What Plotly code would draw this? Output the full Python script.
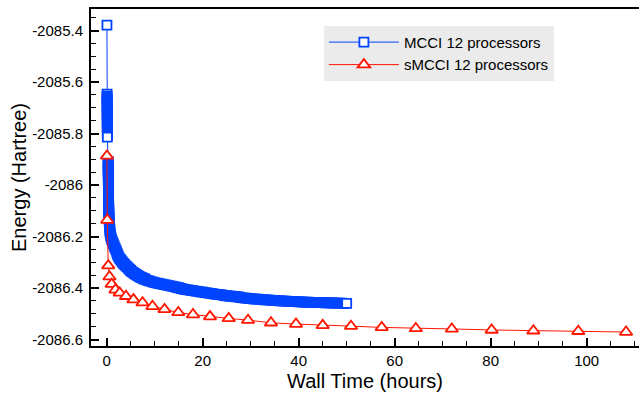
import plotly.graph_objects as go

# ---------------- data ----------------
mcci_time = [
    0.05,
    0.08, 0.08, 0.09, 0.09, 0.09, 0.10, 0.10, 0.10, 0.11, 0.11, 0.11,
    0.12, 0.12, 0.12, 0.12, 0.13, 0.13, 0.13, 0.13, 0.14, 0.14, 0.14,
    0.30, 0.30, 0.31, 0.31, 0.32, 0.32, 0.33, 0.33, 0.34, 0.34, 0.35, 0.35,
    0.36, 0.36, 0.37, 0.37, 0.38, 0.38, 0.39, 0.39, 0.40, 0.41, 0.42, 0.43,
    0.44, 0.45, 0.46, 0.48,
    0.50, 0.53, 0.56, 0.59, 0.62, 0.65, 0.68, 0.74, 0.82, 0.92, 1.04, 1.20,
    1.38, 1.56, 1.74, 1.92, 2.08, 2.24,
    2.4, 2.6, 2.8, 3.0, 3.25, 3.5, 3.75, 4.0, 4.25, 4.5, 4.75, 5.0, 5.25,
    5.5, 5.75, 6.0, 6.25, 6.5, 6.75, 7.0, 7.25, 7.5, 7.75,
    8.0, 8.5, 9.0,
    9.5, 10.0, 10.5, 11.0, 11.5, 12.0, 12.5, 13.0, 13.5, 14.0, 14.5, 15.0,
    15.5, 16.0, 16.5, 17.0, 17.5, 18.0, 18.5, 19.0, 19.5, 20.0, 20.5, 21.0,
    21.5, 22.0, 22.5, 23.0, 23.5, 24.0, 24.5, 25.0, 25.5, 26.0, 26.5, 27.0,
    27.5, 28.0, 28.5, 29.0, 29.5, 30.0, 30.5, 31.0, 31.5, 32.0, 32.5, 33.0,
    33.5, 34.0, 34.5, 35.0, 35.5, 36.0, 36.5, 37.0, 37.5, 38.0, 38.5, 39.0,
    39.5, 40.0, 40.5, 41.0, 41.5, 42.0, 42.5, 43.0, 43.5, 44.0, 44.5, 45.0,
    45.5, 46.0, 46.5, 47.0, 47.5, 48.0, 48.5, 49.0, 49.5, 50.0,
]
mcci_energy = [
    -2085.379,
    -2085.647, -2085.655, -2085.663, -2085.671, -2085.679, -2085.687,
    -2085.695, -2085.703, -2085.711, -2085.719, -2085.727, -2085.735,
    -2085.743, -2085.751, -2085.759, -2085.767, -2085.775, -2085.783,
    -2085.791, -2085.799, -2085.807, -2085.814,
    -2085.908, -2085.916, -2085.924, -2085.932, -2085.940, -2085.948,
    -2085.956, -2085.964, -2085.972, -2085.980, -2085.988, -2085.996,
    -2086.004, -2086.012, -2086.020, -2086.028, -2086.036, -2086.044,
    -2086.052, -2086.060, -2086.068, -2086.076, -2086.084, -2086.092,
    -2086.100, -2086.108, -2086.116, -2086.124,
    -2086.132, -2086.140, -2086.148, -2086.156, -2086.164, -2086.172,
    -2086.180, -2086.188, -2086.196, -2086.204, -2086.212, -2086.220,
    -2086.228, -2086.236, -2086.244, -2086.252, -2086.260, -2086.268,
    -2086.275, -2086.283, -2086.288, -2086.293, -2086.299, -2086.304,
    -2086.309, -2086.314, -2086.318, -2086.323, -2086.328, -2086.332,
    -2086.336, -2086.339, -2086.343, -2086.346, -2086.349, -2086.352,
    -2086.355, -2086.358, -2086.360, -2086.362, -2086.364,
    -2086.366, -2086.370, -2086.373,
    -2086.376, -2086.379, -2086.381, -2086.383,
    -2086.385, -2086.387, -2086.389, -2086.391, -2086.393, -2086.395,
    -2086.397, -2086.399, -2086.402, -2086.404, -2086.406, -2086.407,
    -2086.409, -2086.410, -2086.412, -2086.413, -2086.415, -2086.416,
    -2086.418, -2086.419, -2086.421, -2086.422, -2086.424, -2086.425,
    -2086.426, -2086.427, -2086.429, -2086.430, -2086.431, -2086.432,
    -2086.433, -2086.434, -2086.435, -2086.437, -2086.438, -2086.439,
    -2086.440, -2086.441, -2086.442, -2086.443, -2086.443, -2086.444,
    -2086.445, -2086.446, -2086.446, -2086.447, -2086.448, -2086.448,
    -2086.449, -2086.450, -2086.450, -2086.451, -2086.451, -2086.452,
    -2086.452, -2086.453, -2086.453, -2086.454, -2086.454, -2086.455,
    -2086.455, -2086.455, -2086.456, -2086.456, -2086.456, -2086.457,
    -2086.457, -2086.457, -2086.458, -2086.458, -2086.458, -2086.458,
    -2086.459, -2086.459, -2086.459, -2086.459, -2086.460, -2086.460,
]

smcci_time = [
    0.06, 0.12, 0.33, 0.58, 1.04, 1.83, 2.71, 4.02, 5.58, 7.46, 9.54,
    12.04, 14.92, 17.98, 21.52, 25.42, 29.44, 34.23, 39.44, 45.0, 50.9,
    57.3, 64.4, 71.9, 80.2, 88.9, 98.25, 108.2,
]
smcci_energy = [
    -2085.887, -2086.136, -2086.313, -2086.356, -2086.385, -2086.407,
    -2086.419, -2086.432, -2086.445, -2086.457, -2086.471, -2086.483,
    -2086.495, -2086.503, -2086.511, -2086.518, -2086.525, -2086.535,
    -2086.540, -2086.545, -2086.548, -2086.553, -2086.557, -2086.559,
    -2086.563, -2086.566, -2086.568, -2086.571,
]

x_tick_values = [0, 20, 40, 60, 80, 100]
y_tick_values = [-2086.6, -2086.4, -2086.2, -2086.0, -2085.8, -2085.6, -2085.4]
y_tick_labels = ["-2086.6", "-2086.4", "-2086.2", "-2086", "-2085.8", "-2085.6", "-2085.4"]

series_names = ["MCCI 12 processors", "sMCCI 12 processors"]

# ---------------- styling ----------------
BLUE = "#0044ff"
RED = "#ff1500"
FONT = "Liberation Sans, Arial, Helvetica, sans-serif"

# dense overlapping squares read as a solid band; isolated / end squares stay open
n_mcci = len(mcci_time)
mcci_fill = [BLUE] * n_mcci
for i in (0, 1, 22, n_mcci - 1):
    mcci_fill[i] = "white"

fig = go.Figure()
fig.add_trace(go.Scatter(
    x=mcci_time, y=mcci_energy, name=series_names[0],
    mode="lines+markers",
    line=dict(color=BLUE, width=1),
    marker=dict(symbol="square", size=9, color=mcci_fill,
                line=dict(color=BLUE, width=1.8)),
))
fig.add_trace(go.Scatter(
    x=smcci_time, y=smcci_energy, name=series_names[1],
    mode="lines+markers",
    line=dict(color=RED, width=1),
    marker=dict(symbol="triangle-up", size=11, color="white",
                line=dict(color=RED, width=1.8)),
))

fig.update_layout(
    width=639, height=395,
    margin=dict(l=91, r=0, t=9, b=49),
    paper_bgcolor="white", plot_bgcolor="white",
    font=dict(family=FONT, size=15, color="black"),
    showlegend=True,
    legend=dict(
        x=0.425, y=0.95, xanchor="left", yanchor="top",
        bgcolor="#ebebeb", borderwidth=0,
        font=dict(size=15, color="black"),
        itemwidth=70, tracegroupgap=0,
    ),
)
fig.update_xaxes(
    range=[-3.27, 110.9],
    tickmode="array", tickvals=x_tick_values,
    ticks="inside", ticklen=8, tickwidth=1.5, tickcolor="black",
    minor=dict(dtick=5, tick0=0, ticks="inside", ticklen=5, tickwidth=1.2,
               tickcolor="black", showgrid=False),
    showline=True, linecolor="black", linewidth=2, mirror=True,
    showgrid=False, zeroline=False,
    tickfont=dict(size=15),
    title=dict(text="Wall Time (hours)", font=dict(size=20), standoff=6),
)
fig.update_yaxes(
    range=[-2086.6252, -2085.3165],
    tickmode="array", tickvals=y_tick_values, ticktext=y_tick_labels,
    ticks="inside", ticklen=8, tickwidth=1.5, tickcolor="black",
    minor=dict(dtick=0.05, tick0=-2086.6, ticks="inside", ticklen=5,
               tickwidth=1.2, tickcolor="black", showgrid=False),
    showline=True, linecolor="black", linewidth=2, mirror=False,
    showgrid=False, zeroline=False,
    tickfont=dict(size=15), ticklabelstandoff=3,
    title=dict(text="Energy (Hartree)", font=dict(size=20), standoff=0),
)

fig.write_html("out.html")
